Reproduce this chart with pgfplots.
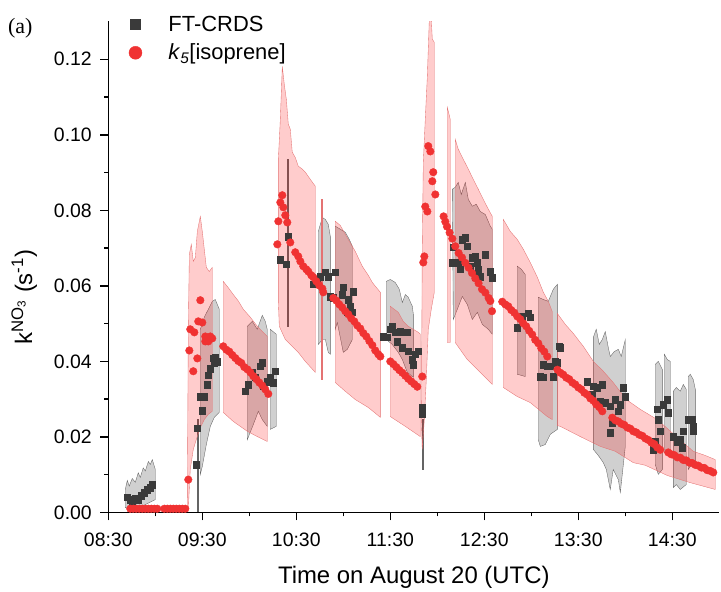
\documentclass[border=0pt]{standalone}
\usepackage{fontspec}
\setmainfont{Liberation Sans}
\newfontfamily\serifa{Liberation Serif}
\usepackage{pgfplots}
\pgfplotsset{compat=1.18}
\definecolor{kred}{RGB}{240,50,50}
\definecolor{kgray}{RGB}{58,58,58}
\definecolor{bandgray}{RGB}{208,208,208}
\definecolor{edgegray}{RGB}{100,100,100}
\definecolor{edgered}{RGB}{228,115,115}
\pgfplotsset{
  redband/.style={fill=red, fill opacity=0.2, draw=edgered, line width=0.35bp, forget plot},
  grayband/.style={fill=bandgray, draw=edgegray, line width=0.35bp, forget plot},
  mylegimg/.style={legend image code/.code={\path[draw=none,fill=none] (0bp,-7bp) rectangle (46bp,7bp); \draw[##1] plot coordinates {(13bp,0bp)};}},
}
\begin{document}
\begin{tikzpicture}
\begin{axis}[
  at={(0,0)}, anchor=south west,
  width=611bp, height=491bp, scale only axis,
  xmin=8.5, xmax=15.0, ymin=0, ymax=0.13,
  axis lines=left, axis line style={-, line width=1.5bp},
  tick align=outside, major tick length=8bp, minor tick length=4bp,
  every tick/.style={black, line width=1.5bp},
  xtick={8.5,9.5,10.5,11.5,12.5,13.5,14.5},
  xticklabels={08:30,09:30,10:30,11:30,12:30,13:30,14:30},
  minor x tick num=1,
  ytick={0,0.02,0.04,0.06,0.08,0.10,0.12},
  minor y tick num=1,
  scaled y ticks=false,
  /pgf/number format/assume math mode=true,
  yticklabel style={/pgf/number format/fixed, /pgf/number format/fixed zerofill, /pgf/number format/precision=2, xshift=-5bp},
  xticklabel style={yshift=-9bp},
  ticklabel style={font=\fontsize{19.5}{23}\selectfont},
  xlabel={Time on August 20 (UTC)},
  ylabel={k\textsuperscript{NO\textsubscript{3}} (s\textsuperscript{-1})},
  label style={font=\fontsize{24}{28}\selectfont},
  xlabel style={at={(axis description cs:0.5,-0.131)}, anchor=center},
  ylabel style={at={(axis description cs:-0.1375,0.439)}, anchor=center},
  legend style={at={(axis description cs:0.0229,1.011)}, anchor=north west, draw=none, fill=none,
    font=\fontsize{22}{26}\selectfont, inner sep=0pt, column sep=0pt, row sep=11bp,
    nodes={inner sep=0pt}},
  legend cell align=left,
]
\addlegendimage{only marks, mark=square*, mark size=5bp, color=kgray, mylegimg}
\addlegendentry{FT-CRDS}
\addlegendimage{only marks, mark=*, mark size=6.5bp, color=kred, mylegimg}
\addlegendentry{\textit{k}\textsubscript{\textit{5}}[isoprene]}

% ---------- FT-CRDS uncertainty (gray) ----------
\addplot[grayband] coordinates {(8.681,0.0061)(8.702,0.0085)(8.723,0.0070)(8.755,0.0090)(8.787,0.0080)(8.819,0.0105)(8.840,0.0093)(8.872,0.0118)(8.894,0.0110)(8.926,0.0135)(8.947,0.0127)(8.968,0.0140)(9.000,0.0114)(9.000,0.0034)(8.894,0.0021)(8.787,0.0008)(8.681,0.0013)} -- cycle;
\addplot[grayband] coordinates {(9.441,0.0246)(9.452,0.0246)(9.452,0.0003)(9.441,0.0003)} -- cycle;
\addplot[grayband] coordinates {(9.479,0.0485)(9.521,0.0517)(9.564,0.0538)(9.606,0.0559)(9.638,0.0564)(9.681,0.0538)(9.681,0.0265)(9.628,0.0252)(9.585,0.0228)(9.543,0.0180)(9.500,0.0122)(9.479,0.0101)} -- cycle;
\addplot[grayband] coordinates {(9.979,0.0493)(10.032,0.0506)(10.085,0.0485)(10.138,0.0522)(10.170,0.0506)(10.191,0.0485)(10.191,0.0228)(10.138,0.0246)(10.096,0.0268)(10.043,0.0233)(9.979,0.0193)} -- cycle;
\addplot[grayband] coordinates {(10.223,0.0485)(10.287,0.0472)(10.287,0.0228)(10.223,0.0220)} -- cycle;
\addplot[grayband] coordinates {(10.405,0.0935)(10.415,0.0935)(10.415,0.0493)(10.405,0.0493)} -- cycle;
\addplot[grayband] coordinates {(10.734,0.0744)(10.777,0.0781)(10.809,0.0776)(10.840,0.0763)(10.862,0.0731)(10.862,0.0419)(10.840,0.0424)(10.809,0.0458)(10.777,0.0458)(10.734,0.0445)} -- cycle;
\addplot[grayband] coordinates {(10.915,0.0758)(10.968,0.0750)(11.021,0.0742)(11.064,0.0723)(11.096,0.0705)(11.096,0.0458)(11.043,0.0432)(11.000,0.0424)(10.936,0.0503)(10.915,0.0485)} -- cycle;
\addplot[grayband] coordinates {(11.457,0.0612)(11.500,0.0617)(11.553,0.0609)(11.596,0.0591)(11.628,0.0556)(11.660,0.0577)(11.691,0.0570)(11.734,0.0546)(11.745,0.0525)(11.745,0.0358)(11.681,0.0371)(11.628,0.0405)(11.585,0.0424)(11.521,0.0445)(11.457,0.0458)} -- cycle;
\addplot[grayband] coordinates {(11.835,0.0246)(11.846,0.0246)(11.846,0.0114)(11.835,0.0114)} -- cycle;
\addplot[grayband] coordinates {(12.160,0.0856)(12.191,0.0861)(12.223,0.0874)(12.255,0.0842)(12.298,0.0874)(12.330,0.0829)(12.372,0.0811)(12.415,0.0816)(12.457,0.0797)(12.511,0.0789)(12.564,0.0758)(12.585,0.0750)(12.585,0.0472)(12.543,0.0485)(12.479,0.0498)(12.426,0.0530)(12.372,0.0511)(12.319,0.0551)(12.266,0.0572)(12.213,0.0538)(12.170,0.0511)} -- cycle;
\addplot[grayband] coordinates {(12.851,0.0652)(12.894,0.0644)(12.936,0.0630)(12.936,0.0360)(12.851,0.0366)} -- cycle;
\addplot[grayband] coordinates {(13.074,0.0570)(13.128,0.0564)(13.181,0.0559)(13.234,0.0591)(13.277,0.0604)(13.277,0.0220)(13.202,0.0207)(13.149,0.0180)(13.096,0.0175)(13.074,0.0193)} -- cycle;
\addplot[grayband] coordinates {(13.660,0.0464)(13.691,0.0485)(13.723,0.0445)(13.755,0.0458)(13.787,0.0479)(13.819,0.0437)(13.840,0.0413)(13.883,0.0426)(13.926,0.0432)(13.957,0.0413)(14.000,0.0458)(14.000,0.0175)(13.947,0.0053)(13.926,0.0087)(13.872,0.0114)(13.840,0.0061)(13.798,0.0114)(13.766,0.0132)(13.713,0.0151)(13.660,0.0167)} -- cycle;
\addplot[grayband] coordinates {(14.319,0.0392)(14.351,0.0400)(14.394,0.0379)(14.394,0.0114)(14.351,0.0101)(14.319,0.0127)} -- cycle;
\addplot[grayband] coordinates {(14.415,0.0419)(14.447,0.0405)(14.479,0.0400)(14.479,0.0154)(14.415,0.0159)} -- cycle;
\addplot[grayband] coordinates {(14.511,0.0321)(14.543,0.0331)(14.585,0.0321)(14.617,0.0339)(14.649,0.0326)(14.649,0.0074)(14.585,0.0061)(14.543,0.0074)(14.511,0.0066)} -- cycle;
\addplot[grayband] coordinates {(14.670,0.0360)(14.691,0.0366)(14.723,0.0352)(14.745,0.0326)(14.745,0.0127)(14.691,0.0122)(14.670,0.0114)} -- cycle;

% ---------- FT-CRDS measurements ----------
\addplot[only marks, mark=square*, mark size=3.3bp, color=kgray, forget plot] coordinates {
(8.702,0.0040)(8.734,0.0034)(8.755,0.0021)(8.787,0.0037)(8.819,0.0034)(8.851,0.0045)(8.883,0.0053)(8.915,0.0061)(8.947,0.0066)(8.968,0.0074)
(9.436,0.0127)(9.447,0.0223)(9.500,0.0270)(9.479,0.0307)(9.521,0.0307)(9.553,0.0339)(9.564,0.0363)(9.585,0.0381)(9.617,0.0408)(9.638,0.0411)(9.660,0.0400)(9.628,0.0397)
(9.957,0.0321)(9.989,0.0339)(10.032,0.0371)(10.064,0.0358)(10.117,0.0387)(10.138,0.0397)(10.149,0.0334)(10.191,0.0347)(10.223,0.0358)(10.277,0.0374)(10.255,0.0344)
(10.415,0.0731)(10.330,0.0670)(10.394,0.0657)(10.681,0.0604)(10.723,0.0617)(10.755,0.0625)(10.809,0.0636)(10.840,0.0625)(10.915,0.0636)(10.862,0.0572)(10.894,0.0569)(11.000,0.0596)(10.989,0.0577)(11.053,0.0564)(11.106,0.0585)(11.074,0.0546)(11.043,0.0530)(11.096,0.0530)
(11.426,0.0466)(11.468,0.0464)(11.500,0.0485)(11.521,0.0493)(11.553,0.0477)(11.606,0.0479)(11.681,0.0477)(11.574,0.0453)(11.628,0.0437)(11.691,0.0427)(11.734,0.0405)(11.766,0.0419)(11.798,0.0427)(11.745,0.0392)(11.840,0.0278)(11.840,0.0260)
(12.170,0.0702)(12.160,0.0662)(12.266,0.0723)(12.298,0.0728)(12.319,0.0705)(12.223,0.0662)(12.245,0.0644)(12.372,0.0675)(12.404,0.0678)(12.351,0.0652)(12.426,0.0662)(12.436,0.0644)(12.404,0.0625)(12.457,0.0625)(12.511,0.0683)(12.564,0.0638)(12.585,0.0621)
(12.904,0.0518)(12.968,0.0528)(12.989,0.0517)(12.851,0.0490)(13.298,0.0440)(13.255,0.0400)(13.277,0.0397)(13.128,0.0392)(13.170,0.0387)(13.202,0.0387)(13.096,0.0360)(13.128,0.0358)(13.234,0.0360)
(13.309,0.0437)(13.596,0.0347)(13.660,0.0334)(13.702,0.0331)(13.755,0.0339)(13.649,0.0313)(13.734,0.0294)(13.787,0.0291)(13.840,0.0281)(13.894,0.0299)(13.947,0.0286)(13.926,0.0268)(13.979,0.0331)(14.000,0.0307)(13.862,0.0238)(13.840,0.0212)
(14.340,0.0273)(14.351,0.0246)(14.372,0.0215)(14.319,0.0188)(14.298,0.0167)(14.404,0.0286)(14.447,0.0299)(14.457,0.0265)(14.511,0.0201)(14.553,0.0188)(14.585,0.0193)(14.606,0.0172)(14.617,0.0215)(14.670,0.0246)(14.713,0.0246)(14.723,0.0228)(14.723,0.0215)
};

% ---------- k5[isoprene] uncertainty (red) ----------
\addplot[redband] coordinates {(9.340,0.0008)(9.351,0.0485)(9.362,0.0683)(9.383,0.0710)(9.404,0.0665)(9.426,0.0675)(9.447,0.0744)(9.479,0.0784)(9.500,0.0744)(9.521,0.0697)(9.543,0.0649)(9.574,0.0638)(9.606,0.0649)(9.606,0.0268)(9.564,0.0260)(9.521,0.0246)(9.479,0.0225)(9.436,0.0193)(9.404,0.0167)(9.372,0.0114)(9.351,0.0008)} -- cycle;
\addplot[redband] coordinates {(9.723,0.0612)(9.777,0.0595)(9.830,0.0577)(9.883,0.0560)(9.936,0.0538)(10.011,0.0517)(10.085,0.0493)(10.149,0.0477)(10.191,0.0466)(10.191,0.0188)(10.085,0.0201)(9.979,0.0215)(9.830,0.0241)(9.723,0.0265)} -- cycle;
\addplot[redband] coordinates {(10.309,0.0935)(10.330,0.1041)(10.351,0.1181)(10.372,0.1134)(10.394,0.1094)(10.415,0.1028)(10.436,0.1015)(10.457,0.0954)(10.489,0.0940)(10.521,0.0917)(10.564,0.0909)(10.596,0.0901)(10.649,0.0882)(10.702,0.0864)(10.702,0.0371)(10.596,0.0400)(10.521,0.0424)(10.457,0.0440)(10.383,0.0458)(10.319,0.0493)(10.309,0.0560)} -- cycle;
\addplot[redband] coordinates {(10.765,0.0829)(10.777,0.0829)(10.777,0.0352)(10.765,0.0352)} -- cycle;
\addplot[redband] coordinates {(10.915,0.0771)(10.968,0.0760)(11.053,0.0723)(11.128,0.0691)(11.202,0.0652)(11.266,0.0628)(11.309,0.0609)(11.351,0.0596)(11.394,0.0583)(11.394,0.0252)(11.266,0.0278)(11.128,0.0299)(11.021,0.0321)(10.915,0.0344)} -- cycle;
\addplot[redband] coordinates {(11.500,0.0546)(11.585,0.0530)(11.638,0.0506)(11.691,0.0493)(11.745,0.0485)(11.798,0.0477)(11.819,0.0472)(11.819,0.0201)(11.660,0.0228)(11.500,0.0254)} -- cycle;
\addplot[redband] coordinates {(11.830,0.0246)(11.840,0.0697)(11.851,0.0927)(11.872,0.1041)(11.894,0.1155)(11.915,0.1306)(11.936,0.1306)(11.947,0.1253)(11.968,0.1245)(11.968,0.0583)(11.936,0.0538)(11.904,0.0485)(11.883,0.0352)(11.862,0.0246)(11.840,0.0167)} -- cycle;
\addplot[redband] coordinates {(12.106,0.1073)(12.138,0.1041)(12.138,0.0450)(12.106,0.0450)} -- cycle;
\addplot[redband] coordinates {(12.191,0.0988)(12.223,0.0962)(12.277,0.0935)(12.330,0.0909)(12.383,0.0882)(12.436,0.0856)(12.489,0.0829)(12.543,0.0803)(12.585,0.0784)(12.585,0.0339)(12.457,0.0371)(12.319,0.0405)(12.191,0.0450)} -- cycle;
\addplot[redband] coordinates {(12.702,0.0776)(12.777,0.0744)(12.851,0.0723)(12.915,0.0697)(12.989,0.0662)(13.064,0.0623)(13.128,0.0583)(13.181,0.0559)(13.223,0.0532)(13.223,0.0246)(13.170,0.0254)(12.989,0.0291)(12.851,0.0307)(12.702,0.0331)} -- cycle;
\addplot[redband] coordinates {(13.277,0.0527)(13.362,0.0498)(13.447,0.0474)(13.553,0.0440)(13.660,0.0400)(13.766,0.0374)(13.872,0.0344)(14.011,0.0299)(14.160,0.0273)(14.340,0.0246)(14.543,0.0201)(14.723,0.0162)(14.851,0.0151)(14.957,0.0140)(14.957,0.0061)(14.691,0.0079)(14.447,0.0098)(14.213,0.0125)(14.085,0.0132)(13.894,0.0162)(13.734,0.0175)(13.521,0.0201)(13.309,0.0228)(13.277,0.0230)} -- cycle;

% ---------- k5[isoprene] ----------
\addplot[only marks, mark=*, mark size=3.8bp, color=kred, forget plot] coordinates {
(8.734,0.0010)(8.766,0.0010)(8.798,0.0010)(8.830,0.0010)(8.862,0.0010)(8.894,0.0010)(8.926,0.0010)(8.957,0.0010)(8.989,0.0010)(9.021,0.0010)
(9.096,0.0010)(9.128,0.0010)(9.160,0.0010)(9.191,0.0010)(9.223,0.0010)(9.255,0.0010)(9.287,0.0010)(9.319,0.0010)
(9.351,0.0087)
(9.362,0.0429)(9.372,0.0485)(9.404,0.0374)(9.415,0.0477)(9.447,0.0408)(9.457,0.0506)(9.479,0.0562)(9.500,0.0503)(9.532,0.0466)(9.532,0.0453)(9.553,0.0458)(9.564,0.0453)(9.585,0.0466)(9.606,0.0461)
(9.723,0.0440)(9.755,0.0431)(9.787,0.0426)(9.819,0.0417)(9.851,0.0409)(9.883,0.0401)(9.915,0.0396)(9.947,0.0385)(9.979,0.0379)(10.011,0.0371)(10.043,0.0361)(10.075,0.0353)(10.106,0.0344)(10.138,0.0336)(10.170,0.0326)(10.202,0.0314)
(10.298,0.0710)(10.309,0.0771)(10.330,0.0821)(10.351,0.0840)(10.362,0.0808)(10.383,0.0787)(10.404,0.0768)(10.436,0.0715)(10.489,0.0689)(10.521,0.0678)(10.543,0.0665)(10.574,0.0652)(10.606,0.0644)(10.628,0.0638)(10.660,0.0628)(10.681,0.0623)(10.713,0.0612)(10.745,0.0601)(10.777,0.0593)(10.787,0.0583)
(10.894,0.0568)(10.926,0.0561)(10.957,0.0551)(10.989,0.0543)(11.021,0.0533)(11.053,0.0525)(11.085,0.0514)(11.117,0.0506)(11.149,0.0495)(11.181,0.0487)(11.213,0.0475)(11.245,0.0466)(11.277,0.0454)(11.309,0.0443)(11.340,0.0429)(11.372,0.0419)(11.394,0.0413)
(11.500,0.0400)(11.532,0.0393)(11.564,0.0385)(11.596,0.0377)(11.628,0.0370)(11.660,0.0362)(11.691,0.0354)(11.723,0.0347)(11.755,0.0340)(11.787,0.0333)(11.840,0.0360)
(11.851,0.0662)(11.862,0.0678)(11.872,0.0810)(11.894,0.0797)(11.904,0.0970)(11.926,0.0956)(11.947,0.0877)(11.957,0.0901)(11.979,0.0842)
(12.067,0.0784)(12.085,0.0770)(12.103,0.0757)(12.131,0.0741)(12.160,0.0725)(12.191,0.0705)(12.227,0.0687)(12.263,0.0675)(12.298,0.0661)(12.333,0.0648)(12.369,0.0634)(12.404,0.0620)(12.439,0.0607)(12.476,0.0591)(12.511,0.0582)(12.546,0.0568)(12.564,0.0560)(12.582,0.0533)
(12.691,0.0558)(12.723,0.0551)(12.755,0.0546)(12.787,0.0536)(12.819,0.0529)(12.851,0.0519)(12.883,0.0512)(12.914,0.0501)(12.946,0.0493)(12.978,0.0481)(13.010,0.0471)(13.042,0.0457)(13.074,0.0448)(13.106,0.0435)(13.138,0.0426)(13.170,0.0413)
(13.277,0.0378)(13.309,0.0370)(13.340,0.0365)(13.372,0.0357)(13.404,0.0353)(13.436,0.0344)(13.468,0.0339)(13.500,0.0331)(13.532,0.0326)(13.564,0.0317)(13.596,0.0312)(13.628,0.0302)(13.660,0.0296)(13.691,0.0286)(13.723,0.0279)(13.755,0.0268)
(13.862,0.0251)(13.894,0.0244)(13.926,0.0241)(13.957,0.0235)(13.989,0.0232)(14.021,0.0225)(14.053,0.0222)(14.085,0.0215)(14.117,0.0212)(14.149,0.0206)(14.181,0.0203)(14.213,0.0196)(14.245,0.0192)(14.277,0.0185)(14.309,0.0181)(14.340,0.0172)(14.372,0.0166)
(14.457,0.0159)(14.489,0.0154)(14.521,0.0152)(14.553,0.0146)(14.585,0.0145)(14.617,0.0139)(14.649,0.0138)(14.681,0.0132)(14.713,0.0131)(14.745,0.0126)(14.777,0.0124)(14.809,0.0119)(14.840,0.0118)(14.872,0.0112)(14.904,0.0110)(14.936,0.0106)
};
\end{axis}
\node[anchor=north west, inner sep=0pt, font=\serifa\fontsize{22}{26}\selectfont] at (-100.3bp,494.5bp) {(a)};
\path[use as bounding box] (-108.3bp,-77.5bp) rectangle (612.7bp,512.5bp);
\end{tikzpicture}
\end{document}
